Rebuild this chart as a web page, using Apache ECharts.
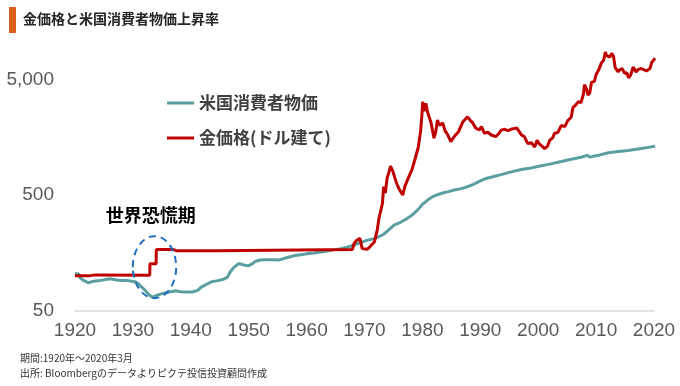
<!DOCTYPE html>
<html><head><meta charset="utf-8">
<script src="https://cdn.jsdelivr.net/npm/echarts@6/dist/echarts.min.js"></script>
<style>html,body{margin:0;padding:0;background:#fff}#c{width:680px;height:386px}</style>
</head><body><div id="c"></div>
<script>
const chartTitle = '金価格と米国消費者物価上昇率';
const seriesNames = ['米国消費者物価', '金価格(ドル建て)'];
const yTickValues = [50, 500, 5000];
const noteLines = ['期間:1920年～2020年3月', '出所: Bloombergのデータよりピクテ投信投資顧問作成'];
const annotationText = '世界恐慌期';
const annotationAt = [1933.1, 336];
const ellipseAt = [1933.73, 119];

const cpiYears = [1920.0,1920.3,1920.6,1920.9,1921.4,1922.3,1923.2,1924.3,1925.3,1926.1,1927.2,1928.2,1929.0,1929.8,1930.4,1930.9,1931.4,1931.9,1932.4,1932.9,1933.3,1933.9,1934.7,1935.5,1936.5,1937.4,1938.2,1939.3,1940.3,1941.2,1941.8,1942.8,1943.6,1944.5,1945.5,1946.3,1946.8,1947.4,1948.3,1949.2,1949.9,1950.6,1951.2,1952.0,1953.0,1954.3,1955.2,1956.7,1958.0,1959.0,1960.0,1961.3,1962.5,1963.6,1964.5,1965.9,1967.0,1967.6,1968.5,1969.4,1970.5,1971.7,1972.5,1973.3,1974.0,1975.1,1976.3,1977.4,1978.3,1979.2,1980.0,1980.9,1981.8,1982.6,1983.5,1984.5,1985.5,1986.5,1987.8,1988.8,1990.1,1991.0,1992.0,1993.6,1995.0,1997.1,1998.5,2000.5,2002.0,2004.0,2005.5,2007.4,2008.5,2009.0,2009.5,2010.5,2012.1,2013.5,2015.5,2017.8,2019.0,2020.2];
const cpiValues = [105,109,104,96,92,87,90,91,93,94.5,92,91,91,90,89,86,81,77,72,68,65.5,67,69.5,71,73,74.5,73,72.5,72.5,75,80,85,89,90.5,93,97,108,118,128,124,122,127,134,137,138,137.6,137,144,150,152,155,158,161,164,167,172,177,181,187,195,203,210,218,229,245,275,292,314,338,372,415,452,485,503,520,535,552,565,590,618,665,695,715,750,785,830,850,895,925,975,1015,1060,1100,1062,1080,1105,1160,1185,1215,1262,1290,1320];

const goldYears = [1920.0,1922.4,1922.5,1923.5,1923.6,1932.9,1932.95,1934.0,1934.05,1937.0,1937.5,1944.5,1944.8,1967.9,1968.2,1968.5,1969.2,1969.6,1970.5,1971.0,1971.7,1972.2,1972.5,1973.1,1973.3,1973.6,1973.9,1974.2,1974.5,1974.9,1975.2,1975.5,1976.0,1976.6,1977.0,1977.5,1978.2,1978.8,1979.3,1979.7,1979.9,1980.05,1980.3,1980.6,1980.9,1981.5,1982.0,1982.3,1982.6,1982.9,1983.2,1983.5,1983.9,1984.4,1984.9,1985.5,1986.2,1986.5,1987.0,1987.8,1988.3,1988.7,1989.2,1989.8,1990.2,1990.7,1991.3,1991.9,1992.7,1993.2,1993.6,1994.2,1994.8,1995.4,1995.9,1996.3,1997.1,1997.6,1998.2,1998.8,1999.4,1999.8,2000.2,2000.6,2001.1,2001.6,2002.0,2002.5,2002.8,2003.4,2004.0,2004.6,2005.1,2005.7,2006.0,2006.5,2006.9,2007.4,2007.8,2008.0,2008.3,2008.6,2008.9,2009.2,2009.7,2010.0,2010.5,2010.9,2011.3,2011.6,2011.8,2012.1,2012.4,2012.7,2013.0,2013.3,2013.8,2014.1,2014.5,2014.9,2015.3,2015.6,2016.0,2016.4,2016.9,2017.3,2017.8,2018.1,2018.7,2019.0,2019.3,2019.6,2019.9,2020.2];
const goldValues = [100,100,102,102,101,101,127,127,169,169,165,165,168,169,190,200,211,172,170,180,196,249,315,424,590,520,700,780,890,800,820,640,560,500,600,690,830,1050,1300,1800,2400,3200,2650,3100,2600,2100,1550,1750,2230,2000,1950,2100,1800,1650,1450,1600,1750,1800,2150,2370,2200,2100,1900,1820,1950,1710,1750,1650,1600,1700,1820,1850,1800,1860,1880,1900,1650,1600,1390,1420,1300,1490,1380,1330,1260,1320,1490,1560,1700,1740,2000,1950,2200,2350,2850,3000,3200,3150,3700,4500,4200,3650,3800,4700,4800,5500,6100,6900,7300,8600,8000,8200,7800,8400,7900,6300,5800,6050,6200,5650,5700,5150,5500,6400,5800,6100,6200,6200,5900,6000,6200,7000,7200,7600];

const pairs = (xs, ys) => xs.map((x, i) => [x, ys[i]]);

const chart = echarts.init(document.getElementById('c'), null, {renderer: 'canvas'});
const axisFont = "'Liberation Sans Narrow', 'Liberation Sans', Arial, sans-serif";
const jpFont = "'Noto Sans CJK JP', 'Noto Sans', sans-serif";

chart.setOption({
  animation: false,
  backgroundColor: '#ffffff',
  grid: {left: 75, right: 26, top: 44.5, bottom: 75.3, containLabel: false},
  legend: {
    orient: 'vertical', left: 162, top: 88,
    icon: 'rect', itemWidth: 27, itemHeight: 3, itemGap: 15,
    textStyle: {fontFamily: jpFont, fontSize: 17, fontWeight: 'bold', color: '#404040', lineHeight: 20},
    data: [seriesNames[0], seriesNames[1]]
  },
  xAxis: {
    type: 'value', min: 1920, max: 2020, interval: 10,
    axisLine: {show: true, lineStyle: {color: '#d9d9d9', width: 1.5}},
    axisTick: {show: false},
    splitLine: {show: false},
    axisLabel: {fontFamily: axisFont, fontSize: 19, color: '#595959', margin: 11, formatter: v => String(v)}
  },
  yAxis: {
    type: 'log', logBase: 10, min: 50, max: 10000,
    axisLine: {show: false}, axisTick: {show: false}, splitLine: {show: false},
    axisLabel: {customValues: yTickValues, fontFamily: axisFont, fontSize: 19, color: '#595959', margin: 21,
      formatter: v => Number(v).toLocaleString('en-US')}
  },
  series: [
    {name: seriesNames[0], type: 'line', data: pairs(cpiYears, cpiValues), showSymbol: false,
      lineStyle: {color: '#5b9ea0', width: 3}, itemStyle: {color: '#5b9ea0'}, z: 2},
    {name: seriesNames[1], type: 'line', data: pairs(goldYears, goldValues), showSymbol: false,
      lineStyle: {color: '#c00000', width: 3}, itemStyle: {color: '#c00000'}, z: 3}
  ]
});

const tp = chart.convertToPixel({gridIndex: 0}, annotationAt);
const ep = chart.convertToPixel({gridIndex: 0}, ellipseAt);
chart.setOption({
  graphic: [
    {type: 'rect', left: 9, top: 7, shape: {width: 7, height: 26}, style: {fill: '#d9601e'}},
    {type: 'text', x: 23, y: 19, style: {text: chartTitle, font: "bold 14px 'Noto Sans CJK JP'", fill: '#262626', verticalAlign: 'middle'}},
    {type: 'text', x: tp[0], y: tp[1], style: {text: annotationText, font: "bold 18px 'Noto Sans CJK JP'", fill: '#000000', align: 'center', verticalAlign: 'middle'}},
    {type: 'ellipse', shape: {cx: ep[0], cy: ep[1], rx: 21.7, ry: 31}, style: {fill: 'none', stroke: '#1f6fc0', lineWidth: 2, lineDash: [7, 5]}, z: 10},
    {type: 'text', x: 20, y: 358, style: {text: noteLines[0], font: "10px 'Noto Sans CJK JP'", fill: '#333333', verticalAlign: 'middle'}},
    {type: 'text', x: 20, y: 373, style: {text: noteLines[1], font: "10px 'Noto Sans CJK JP'", fill: '#333333', verticalAlign: 'middle'}}
  ]
});
</script></body></html>
